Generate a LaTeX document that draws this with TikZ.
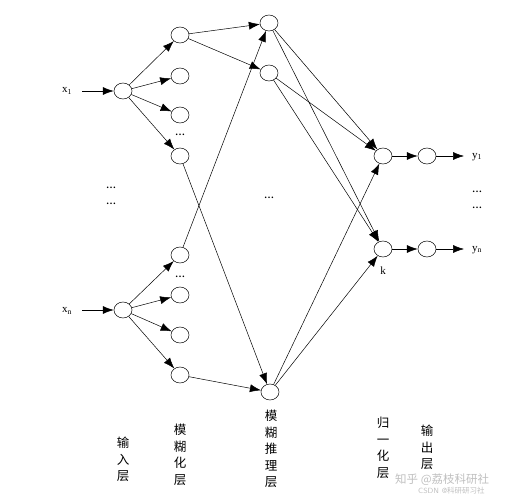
\documentclass[tikz,border=0pt]{standalone}
\usepackage{fontspec}
\setmainfont{Liberation Serif}
\newfontfamily\cjk{Noto Sans CJK SC}
\usetikzlibrary{arrows.meta,shapes.geometric}
\begin{document}
\begin{tikzpicture}[x=1pt,y=-1pt,
 neuron/.style={draw,ellipse,minimum width=18pt,minimum height=16pt,inner sep=0pt,line width=0.5pt},
 conn/.style={line width=0.5pt,-{Latex[length=11pt,width=8pt]}},
 plain/.style={line width=0.5pt},
 lbl/.style={font=\fontsize{11}{13}\selectfont,inner sep=0pt},
 dots/.style={font=\bfseries\fontsize{10}{10}\selectfont,inner sep=0pt},
 vlbl/.style={font=\cjk\fontsize{12.5}{16.5}\selectfont,align=center,anchor=north,inner sep=0pt},
 wm/.style={text=black!25,inner sep=0pt}
]
\useasboundingbox (0,0) rectangle (507,500);
% input layer
\node[neuron] (i1) at (123,91) {};
\node[neuron] (in) at (123,310) {};
\node[lbl] (x1) at (67,91) {x\textsubscript{1}};
\node[lbl] (xn) at (67,311) {x\textsubscript{n}};
\coordinate (s1) at (82,91);
\coordinate (sn) at (82,310);
\draw[conn] (s1) -- (i1);
\draw[conn] (sn) -- (in);
\node[dots] (ld1) at (111,188) {…};
\node[dots] (ld2) at (111,204) {…};
% fuzzification layer
\node[neuron] (f1) at (180,35) {};
\node[neuron] (f2) at (180,76) {};
\node[neuron] (f3) at (180,115) {};
\node[neuron] (f4) at (180,156) {};
\node[dots] (fd1) at (180,135) {…};
\node[neuron] (g1) at (180,255) {};
\node[neuron] (g2) at (180,295) {};
\node[neuron] (g3) at (180,335) {};
\node[neuron] (g4) at (180,375) {};
\node[dots] (fd2) at (180,277) {…};
\foreach \t in {f1,f2,f3,f4} \draw[conn] (i1) -- (\t);
\foreach \t in {g1,g2,g3,g4} \draw[conn] (in) -- (\t);
% rule layer
\node[neuron] (r1) at (269,23) {};
\node[neuron] (r2) at (269,73) {};
\node[neuron] (rn) at (270,392) {};
\node[dots] (rd) at (269,198) {…};
\draw[conn] (f1) -- (r1);
\draw[conn] (f1) -- (r2);
\draw[conn] (f4) -- (rn);
\draw[conn] (g1) -- (r1);
\draw[conn] (g4) -- (rn);
% normalization layer
\node[neuron] (n1) at (383,156) {};
\node[neuron] (n2) at (383,249) {};
\node[lbl] (k) at (383,271) {k};
\draw[conn] (r1) -- (n1);
\draw[conn] (r2) -- (n1);
\draw[conn] (rn) -- (n1);
\draw[conn] (r1) -- (n2);
\draw[conn] (r2) -- (n2);
\draw[conn] (rn) -- (n2);
% output layer
\node[neuron] (o1) at (427,156) {};
\node[neuron] (on) at (427,249) {};
\draw[conn] (n1) -- (o1);
\draw[conn] (n2) -- (on);
\coordinate (e1) at (464,156);
\coordinate (en) at (464,249);
\draw[conn] (o1) -- (e1);
\draw[conn] (on) -- (en);
\node[lbl] (y1) at (477,157) {y\textsubscript{1}};
\node[lbl] (yn) at (477,250) {y\textsubscript{n}};
\node[dots] (od1) at (477,192) {…};
\node[dots] (od2) at (477,208) {…};
% layer labels
\node[vlbl] (L1) at (123,437) {输\\入\\层};
\node[vlbl] (L2) at (180,424) {模\\糊\\化\\层};
\node[vlbl] (L3) at (271,410) {模\\糊\\推\\理\\层};
\node[vlbl] (L4) at (383,417) {归\\一\\化\\层};
\node[vlbl] (L5) at (427,425) {输\\出\\层};
% watermark
\node[wm,font=\cjk\fontsize{11.5}{13}\selectfont,anchor=west] (w1) at (395,480) {知乎 @荔枝科研社};
\node[wm,font=\sffamily\fontsize{7.5}{9}\selectfont,anchor=west] (w2) at (418,491) {CSDN @\cjk 科研研习社};
\end{tikzpicture}
\end{document}
